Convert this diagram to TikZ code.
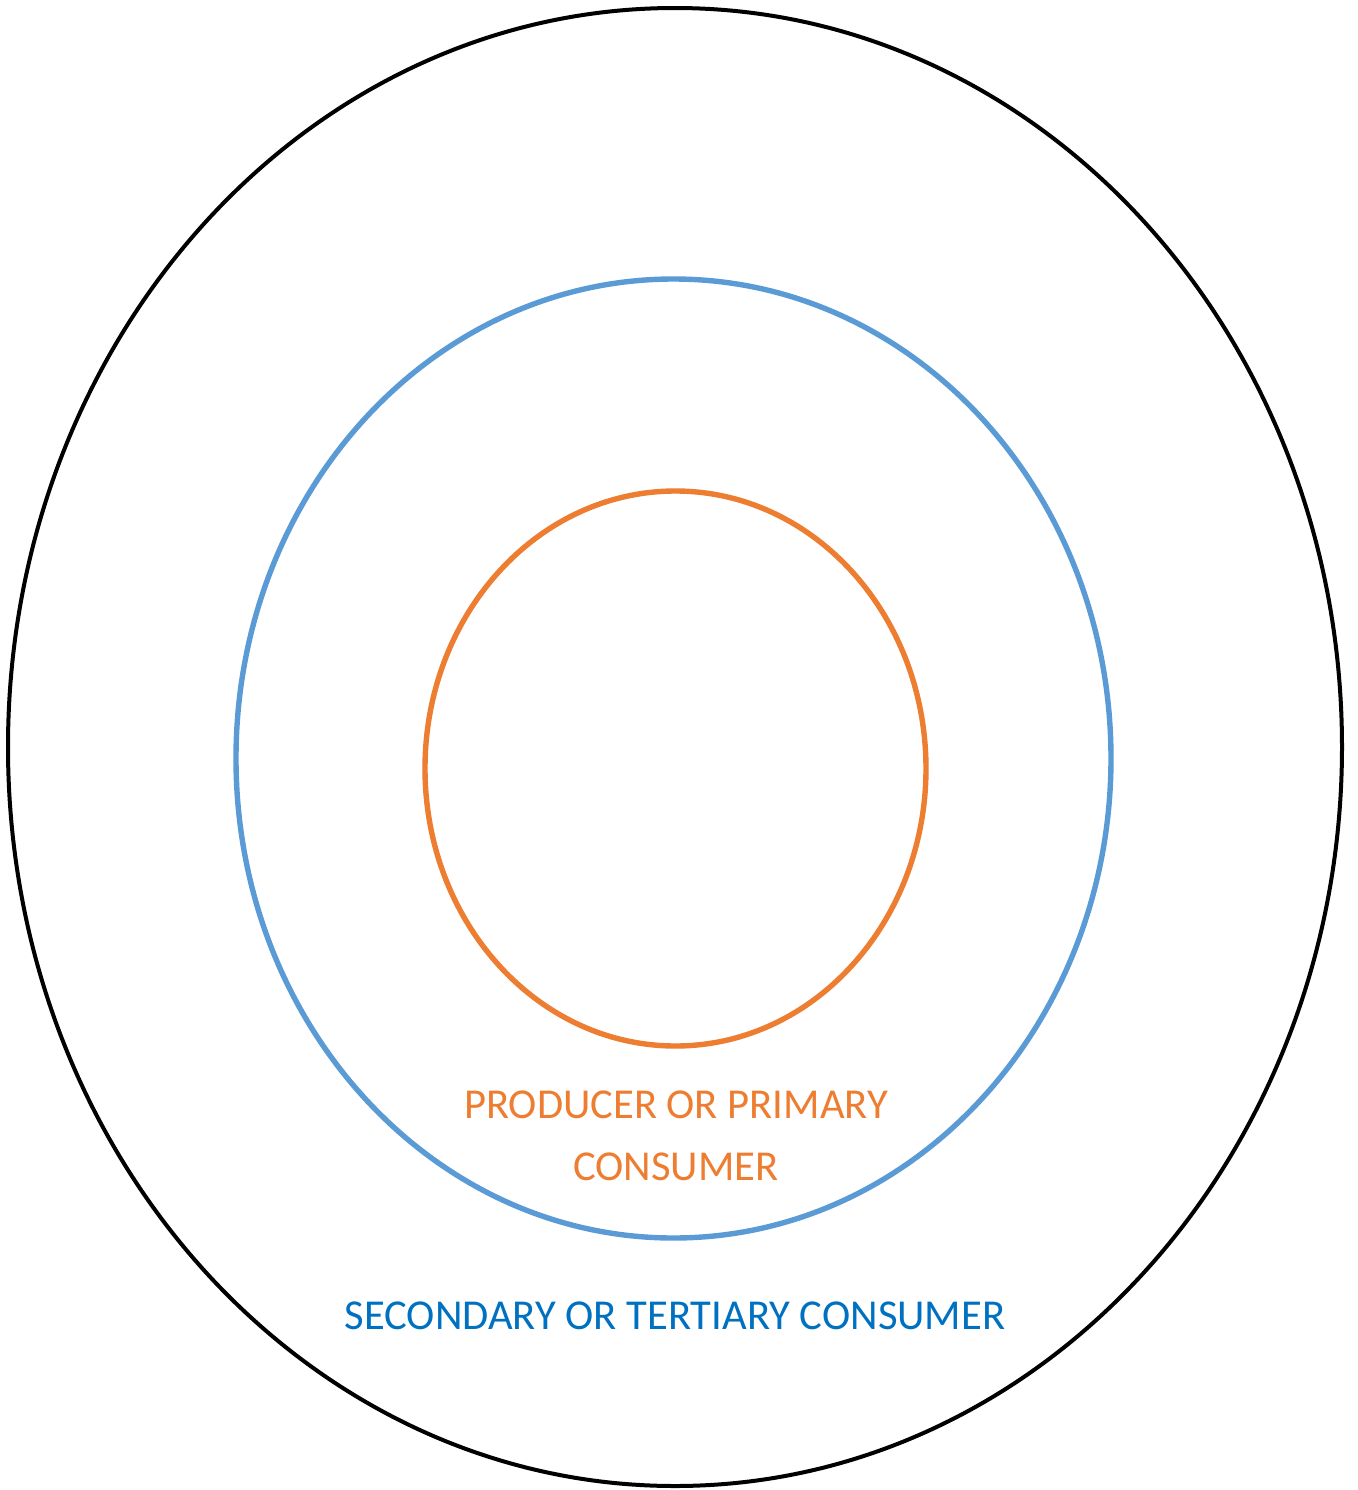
\documentclass[tikz,border=0pt]{standalone}
\usepackage{fontspec}
\setmainfont{Carlito}
\usepackage{xcolor}
\definecolor{ringorange}{HTML}{ED7D31}
\definecolor{ringblue}{HTML}{5B9BD5}
\definecolor{textblue}{HTML}{0070C0}

\begin{document}
\begin{tikzpicture}[x=0.5pt, y=-0.5pt,
    lbl/.style={align=center, font=\fontsize{21.3}{31}\selectfont, inner sep=0pt}]
    \useasboundingbox (0,0) rectangle (1357,1490);
    % Outer ring (secondary / tertiary consumer)
    \draw[black, line width=2pt] (675,747) ellipse [x radius=667, y radius=739];
    % Middle ring
    \draw[ringblue, line width=2.7pt] (673.5,758.5) ellipse [x radius=437.5, y radius=479.5];
    % Inner ring (producer / primary consumer)
    \draw[ringorange, line width=2.7pt] (675.5,768.5) ellipse [x radius=250.5, y radius=277.5];

    % Labels
    \node[lbl, ringorange, anchor=base] (producer) at (676,1180) {PRODUCER OR PRIMARY\\CONSUMER};
    \node[lbl, textblue, anchor=base] (secondary) at (675,1329) {SECONDARY OR TERTIARY CONSUMER};
\end{tikzpicture}
\end{document}
